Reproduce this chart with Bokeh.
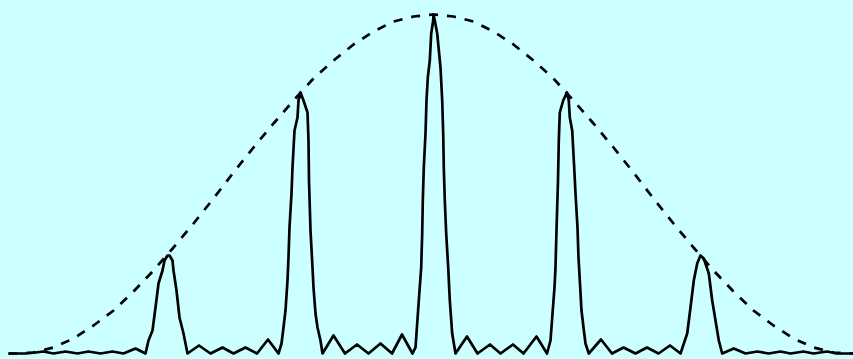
from bokeh.plotting import figure
from bokeh.models import Range1d, GlobalInlineStyleSheet
from bokeh.embed import file_html
from bokeh.resources import INLINE

# Diffraction pattern: position (relative to centre) and intensity (arbitrary units)
pattern_pos = [
    -425, -408, -398, -390, -380, -368, -356, -345, -333, -321, -310, -298, -288,
    -285, -281, -278, -275, -271, -269, -266, -264, -261, -260, -257, -254, -250, -246,
    -234.5, -223, -211, -200, -188, -176.5, -165.5, -155,
    -152, -150, -148, -146, -145, -144, -142, -141, -139, -136, -135, -133,
    -130, -126, -125, -124.5, -123, -121, -120, -118, -116, -113, -111,
    -100, -88.5, -76.5, -65, -53, -41.5, -31.5, -21,
    -18, -17, -14.7, -12.3, -11.3, -10.7, -9.7, -8, -7, -5.7, -3.7, -2.3, -0.3, 0,
    1.3, 3.7, 7, 8.7, 9.7, 10.3, 11.3, 12.7, 14.7, 16.3, 18.7, 22,
    33.5, 44, 56.5, 67, 79.5, 90, 103, 113.5,
    117, 119, 121, 122, 123, 124.5, 125.3, 126.3, 129.7, 133.5,
    135.3, 136.3, 138.7, 140.7, 142, 144, 145, 146.3, 148, 150, 152, 155.3,
    167.5, 178.5, 190, 202, 213.5, 225, 236.5, 247,
    253.7, 257, 260.3, 263.7, 267, 270.3, 275.3, 278.7, 282, 285.3, 288.7,
    300.3, 312, 323.7, 335.3, 347, 357, 370, 380, 393.7, 403, 420,
]
pattern_int = [
    0, 0, 1, 2, 0, 2, 0, 2, 0, 2, 0, 5, 0,
    13, 23, 46, 70, 83, 93, 98, 98, 93, 83, 63, 36, 20, 0,
    8, 0, 6, 0, 6, 0, 14, 0,
    10, 26, 43, 73, 96, 126, 160, 186, 223, 236, 253, 261,
    253, 241, 213, 173, 123, 86, 66, 40, 26, 13, 0,
    18, 0, 9, 0, 10, 0, 19, 0,
    6, 20, 53, 86, 120, 153, 186, 220, 253, 276, 293, 320, 333, 339,
    333, 320, 286, 253, 220, 186, 153, 120, 86, 53, 20, 0,
    17, 0, 9, 0, 9, 0, 17, 0,
    13, 40, 66, 86, 123, 173, 213, 241, 253, 261,
    253, 236, 223, 186, 160, 126, 96, 73, 43, 26, 10, 0,
    14, 0, 6, 0, 6, 0, 8, 0,
    20, 46, 73, 90, 98, 95, 80, 53, 33, 13, 0,
    5, 0, 2, 0, 2, 0, 2, 0, 2, 0, 0,
]

# Single-slit envelope (dashed)
envelope_pos = [
    -425, -417, -400, -380, -360, -340, -320, -300, -280, -260, -240, -220, -200,
    -180, -160, -140, -120, -100, -80, -60, -40, -20, 0,
    20, 40, 60, 80, 100, 120, 140, 160, 180, 200, 220, 240, 260, 280, 300, 320,
    340, 360, 380, 400, 417, 420,
]
envelope_int = [
    0, 0, 1, 6, 15, 28, 43, 62, 83, 106, 130, 155, 181,
    206, 230, 253, 275, 293, 309, 322, 332, 337, 339,
    337, 332, 322, 309, 293, 275, 253, 230, 206, 181, 155, 130, 106, 83, 62, 43,
    28, 15, 6, 1, 0, 0,
]

BG = "#ccffff"

p = figure(
    width=853, height=359,
    x_range=Range1d(-433, 420), y_range=Range1d(-6, 353),
    output_backend="svg", toolbar_location=None,
    min_border=0,
)
p.axis.visible = False
p.grid.visible = False
p.outline_line_color = None
p.background_fill_color = BG
p.border_fill_color = BG

p.line(envelope_pos, envelope_int, line_color="black", line_width=2.7,
       line_dash="9 9")
p.line(pattern_pos, pattern_int, line_color="black", line_width=2.7,
       line_join="round")

p.stylesheets = [GlobalInlineStyleSheet(
    css="html, body { background: #ccffff; overflow: hidden; }")]

open("out.html", "w").write(file_html(p, INLINE))
